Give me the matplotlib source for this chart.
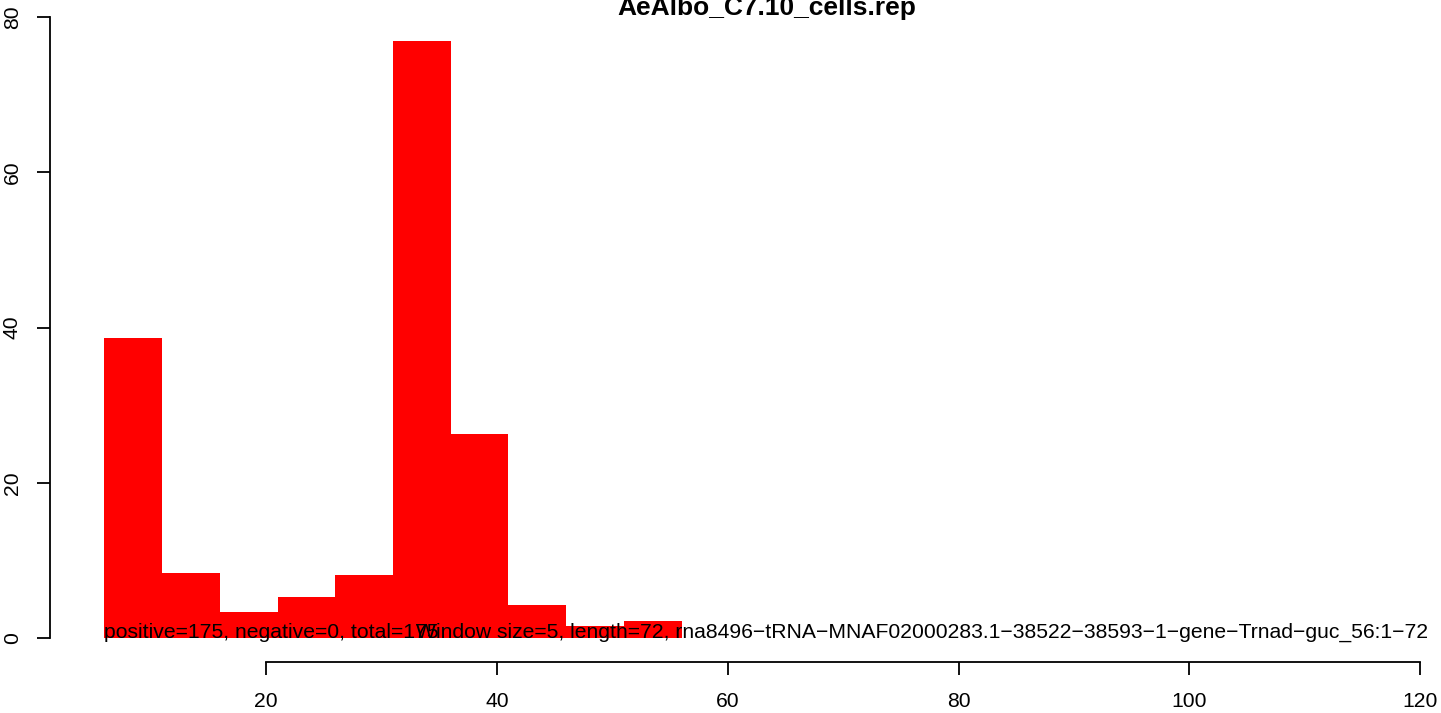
import matplotlib
matplotlib.use("Agg")
import matplotlib.pyplot as plt

# histogram of window positions (fractional counts, sum = 175)
bin_left = [6, 11, 16, 21, 26, 31, 36, 41, 46, 51]
counts = [38.66, 8.38, 3.35, 5.28, 8.12, 76.9, 26.3, 4.25, 1.55, 2.19]
bin_width = 5

x_ticks = [20, 40, 60, 80, 100, 120]
y_ticks = [0, 20, 40, 60, 80]

title = "AeAlbo_C7.10_cells.rep"
info1 = "positive=175, negative=0, total=175"
info2 = ("Window size=5, length=72, "
         "rna8496\u2212tRNA\u2212MNAF02000283.1\u221238522\u221238593\u22121"
         "\u2212gene\u2212Trnad\u2212guc_56:1\u221272")

plt.rcParams['font.family'] = ['Liberation Sans', 'DejaVu Sans']

W, H = 1441, 713
fig = plt.figure(figsize=(W / 100, H / 100), dpi=100)
# plot region in pixels: left 50, bottom 661.5, right past the image edge
ax = fig.add_axes([50 / W, (H - 661.5) / H, (W - 50) / W, 661.5 / H])

ax.bar(bin_left, counts, width=bin_width, align='edge', color='#ff0000',
       edgecolor='none')

ax.set_xlim(1.28, 121.8)
ax.set_ylim(-3.0, 82.2)

for s in ['top', 'right']:
    ax.spines[s].set_visible(False)
ax.spines['left'].set_bounds(0, 80)
ax.spines['bottom'].set_bounds(20, 120)
for s in ['left', 'bottom']:
    ax.spines[s].set_linewidth(1.3)

ax.set_xticks(x_ticks)
ax.set_yticks(y_ticks)
ax.set_yticklabels([str(v) for v in y_ticks], rotation=90, va='center')
ax.tick_params(axis='both', length=9.4, width=1.3, labelsize=15.2)
ax.tick_params(axis='x', pad=12.5)
ax.tick_params(axis='y', pad=11)

ax.text(6, 0, info1, fontsize=15.2, ha='left', va='baseline')
ax.text(33, 0, info2, fontsize=15.2, ha='left', va='baseline')

fig.text(767 / W, 1 - 15 / H, title, fontsize=19, fontweight='bold',
         ha='center', va='baseline')

fig.savefig("out.png", dpi=100)
